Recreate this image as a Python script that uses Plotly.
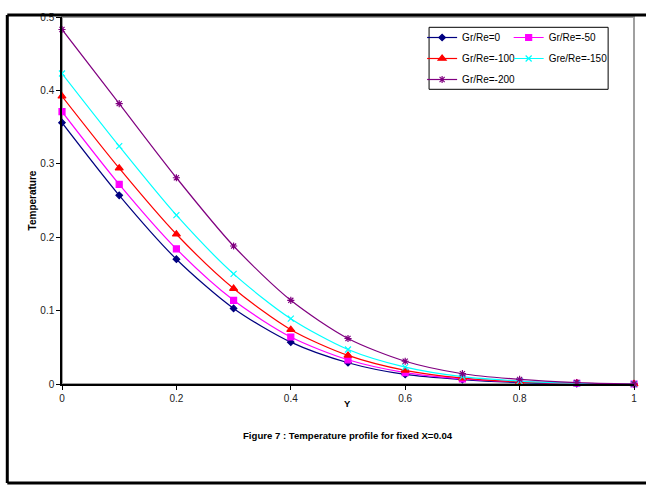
import plotly.graph_objects as go

Y = [0, 0.1, 0.2, 0.3, 0.4, 0.5, 0.6, 0.7, 0.8, 0.9, 1.0]
series_names = ["Gr/Re=0", "Gr/Re=-50", "Gr/Re=-100", "Gre/Re=-150", "Gr/Re=-200"]
t_0 = [0.356, 0.257, 0.170, 0.103, 0.057, 0.029, 0.013, 0.006, 0.002, 0.0005, 0.0]
t_m50 = [0.371, 0.272, 0.184, 0.114, 0.064, 0.033, 0.0155, 0.007, 0.003, 0.001, 0.0]
t_m100 = [0.392, 0.294, 0.204, 0.130, 0.074, 0.039, 0.0186, 0.008, 0.003, 0.001, 0.0]
t_m150 = [0.423, 0.324, 0.230, 0.150, 0.089, 0.047, 0.023, 0.010, 0.004, 0.001, 0.0]
t_m200 = [0.483, 0.382, 0.281, 0.188, 0.114, 0.062, 0.031, 0.014, 0.0063, 0.002, 0.0]
x_ticks = [0, 0.2, 0.4, 0.6, 0.8, 1]
x_labels = ["0", "0.2", "0.4", "0.6", "0.8", "1"]
y_ticks = [0, 0.1, 0.2, 0.3, 0.4, 0.5]
y_labels = ["0", "0.1", "0.2", "0.3", "0.4", "0.5"]

values = [t_0, t_m50, t_m100, t_m150, t_m200]
colors = ["#000080", "#FF00FF", "#FF0000", "#00FFFF", "#800080"]
symbols = ["diamond", "square", "triangle-up", "x-thin-open", "asterisk-open"]
sizes = [5, 6, 7, 6, 6]
legends = ["legend", "legend2", "legend", "legend2", "legend"]

FONT = "Arial, Liberation Sans, sans-serif"
L, R, T, B = 62, 9, 17, 104
W, H = 646, 488
PW, PH = W - L - R, H - T - B


def px_x(p):
    return (p - L) / PW


def px_y(p):
    return (H - B - p) / PH


fig = go.Figure()
for i, (name, vals) in enumerate(zip(series_names, values)):
    fig.add_trace(go.Scatter(
        x=Y, y=vals, name=name, mode="lines+markers", cliponaxis=False,
        line=dict(color=colors[i], width=1.2, shape="spline", smoothing=0.8),
        marker=dict(symbol=symbols[i], size=sizes[i], color=colors[i],
                    line=dict(color=colors[i], width=1.2)),
        legend=legends[i], legendgroup=name,
    ))

fig.update_layout(
    width=W, height=H,
    margin=dict(l=L, r=R, t=T, b=B),
    paper_bgcolor="white", plot_bgcolor="white",
    font=dict(family=FONT, size=10, color="#222222"),
    xaxis=dict(range=[0, 1], tickvals=x_ticks, ticktext=x_labels,
               showgrid=False, zeroline=False, showline=True, linecolor="black",
               linewidth=1.5, ticks="outside", ticklen=4, tickcolor="black"),
    yaxis=dict(range=[0, 0.5], tickvals=y_ticks, ticktext=y_labels,
               showgrid=False, zeroline=False, showline=True, linecolor="black",
               linewidth=1.5, ticks="outside", ticklen=4, tickcolor="black",
               title=dict(text="<b>Temperature</b>", font=dict(size=10, color="black"), standoff=2)),
    legend=dict(x=px_x(424), y=px_y(23), xanchor="left", yanchor="top", bgcolor="rgba(0,0,0,0)",
                font=dict(size=10, color="black"), itemwidth=30, tracegroupgap=2,
                traceorder="grouped"),
    legend2=dict(x=px_x(511), y=px_y(23), xanchor="left", yanchor="top", bgcolor="rgba(0,0,0,0)",
                 font=dict(size=10, color="black"), itemwidth=30, tracegroupgap=2,
                 traceorder="grouped"),
    showlegend=True,
)

# plot-area border (grey, top & right)
fig.add_shape(type="rect", xref="paper", yref="paper", x0=0, y0=0, x1=1, y1=1,
              line=dict(color="#a0a0a0", width=2), layer="below")
# legend box
fig.add_shape(type="rect", xref="paper", yref="paper",
              x0=px_x(431), x1=px_x(611), y0=px_y(89.3), y1=px_y(27.3),
              line=dict(color="black", width=1), fillcolor="rgba(0,0,0,0)", layer="above")
# outer frame
for (x0, y0, x1, y1) in [(7, 15, 660, 15), (7, 15, 7, 483), (7, 483, 660, 483)]:
    fig.add_shape(type="line", xref="paper", yref="paper",
                  x0=px_x(x0), y0=px_y(y0), x1=px_x(x1), y1=px_y(y1),
                  line=dict(color="black", width=3), layer="above")

fig.add_annotation(text="<b>Y</b>", xref="paper", yref="paper",
                   x=px_x(349), y=px_y(403), xanchor="center", yanchor="middle",
                   showarrow=False, font=dict(size=9.5, color="black"))
fig.add_annotation(text="<b>Figure 7 : Temperature profile for fixed X=0.04</b>",
                   xref="paper", yref="paper", x=px_x(349), y=px_y(435),
                   xanchor="center", yanchor="middle", showarrow=False,
                   font=dict(size=9.6, color="black"))

fig.write_html("out.html", post_script="document.body.style.margin='0';",
               config={"displayModeBar": False})
